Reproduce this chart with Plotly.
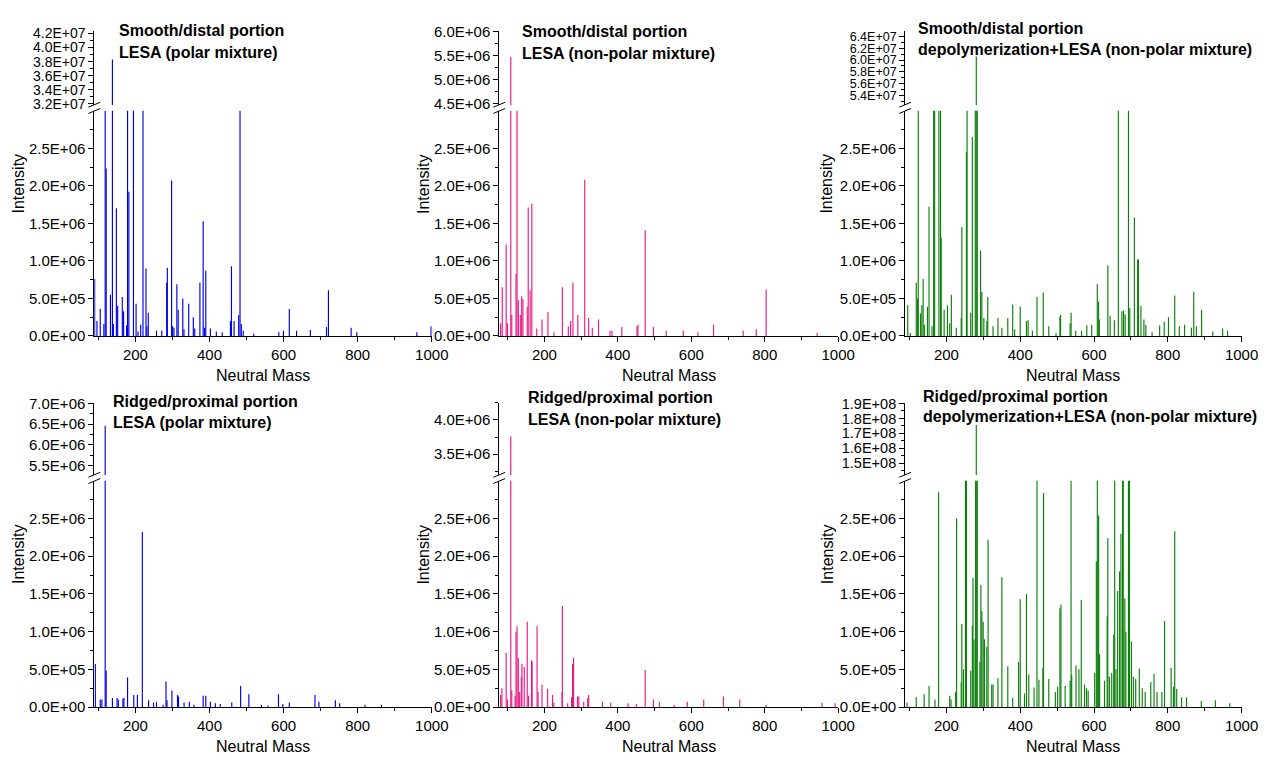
import plotly.graph_objects as go

W, H = 1280, 762
FONT = "Liberation Sans, Arial, sans-serif"

# ---------------- DATA: [neutral mass, intensity (x1e6)] ----------------
# values > 3 that are not visible above the break are off-scale peaks
p1_peaks = [[89.9, 0.76], [96.1, 0.20], [105.0, 0.36], [114.7, 0.16], [118.3, 8.0],
            [121.0, 2.23], [132.5, 0.55], [137.8, 38.3], [140.5, 0.16], [148.5, 1.70],
            [152.0, 0.40], [164.5, 0.52], [168.0, 0.33], [176.0, 0.14], [178.7, 8.0],
            [182.2, 1.92], [194.6, 8.0], [201.7, 0.43], [207.0, 0.06], [214.2, 0.15],
            [220.4, 8.0], [228.4, 0.90], [231.0, 0.13], [234.6, 0.31], [256.8, 0.07],
            [271.0, 0.07], [284.3, 0.71], [286.1, 0.91], [297.6, 2.07], [300.3, 0.13],
            [304.0, 0.11], [311.8, 0.69], [315.4, 0.35], [327.8, 0.50], [331.0, 0.09],
            [343.8, 0.43], [356.2, 0.25], [360.0, 0.10], [374.0, 0.71], [382.8, 1.53],
            [386.4, 0.11], [389.9, 0.87], [402.4, 0.10], [418.3, 0.06], [434.3, 0.05],
            [456.5, 0.20], [459.2, 0.93], [466.3, 0.20], [478.7, 0.28], [482.3, 8.0],
            [485.8, 0.16], [491.1, 0.07], [519.5, 0.03], [587.0, 0.05], [599.4, 0.07],
            [615.4, 0.36], [635.0, 0.07], [672.2, 0.08], [715.7, 0.12], [721.0, 0.61],
            [782.3, 0.11], [797.4, 0.05], [959.8, 0.05], [998.0, 0.13]]

p2_peaks = [[80.6, 0.17], [85.1, 0.65], [95.8, 1.22], [99.4, 0.17], [108.3, 5.48],
            [111.0, 0.28], [122.6, 0.83], [125.3, 4.0], [128.9, 0.48], [134.3, 0.28],
            [137.9, 0.53], [141.4, 0.49], [153.1, 0.39], [155.8, 1.71], [161.1, 0.61],
            [165.6, 1.76], [179.0, 0.10], [193.4, 0.22], [209.5, 0.32], [226.0, 0.05],
            [248.8, 0.65], [265.0, 0.13], [271.2, 0.20], [277.5, 0.71], [290.9, 0.28],
            [309.7, 2.08], [320.4, 0.24], [330.3, 0.11], [347.3, 0.22], [378.6, 0.07],
            [384.0, 0.07], [410.8, 0.12], [452.0, 0.13], [454.7, 0.15], [474.4, 1.41],
            [496.8, 0.12], [531.7, 0.07], [578.2, 0.07], [618.0, 0.05], [660.5, 0.15],
            [741.1, 0.07], [776.9, 0.09], [803.7, 0.62], [942.5, 0.04]]

p3_peaks = [[95.1, 0.41], [102.2, 0.04], [118.2, 0.71], [121.8, 0.50], [123.6, 10.0],
            [129.8, 0.30], [133.3, 0.41], [136.9, 0.76], [140.5, 0.15], [148.5, 0.39],
            [152.9, 1.72], [160.9, 0.13], [165.3, 10.0], [168.0, 10.0], [179.6, 10.0],
            [184.0, 10.0], [185.8, 1.31], [193.8, 0.35], [202.7, 0.41], [208.9, 0.17],
            [213.3, 0.55], [226.7, 0.11], [240.0, 0.24], [241.8, 1.45], [254.2, 2.45],
            [256.0, 10.0], [265.8, 0.31], [270.2, 2.65], [278.2, 10.0], [280.9, 60.6],
            [283.6, 10.0], [292.5, 1.14], [296.0, 0.59], [301.4, 0.24], [309.4, 0.20],
            [312.0, 0.52], [326.3, 0.13], [339.6, 0.24], [350.3, 0.11], [366.3, 0.24],
            [379.6, 0.42], [385.0, 0.09], [400.0, 0.39], [416.9, 0.20], [421.4, 0.21],
            [433.0, 0.07], [445.4, 0.52], [462.3, 0.58], [477.4, 0.13], [497.0, 0.04],
            [507.6, 0.26], [509.4, 0.28], [535.2, 0.17], [537.9, 0.31], [550.3, 0.07],
            [566.3, 0.07], [580.5, 0.14], [593.8, 0.15], [608.9, 0.69], [612.5, 0.46],
            [614.3, 0.22], [637.5, 0.94], [643.6, 0.27], [655.2, 0.21], [665.9, 10.0],
            [675.6, 0.33], [680.1, 0.34], [684.5, 0.29], [693.4, 10.0], [697.0, 0.37],
            [709.4, 1.58], [718.3, 1.02], [720.5, 1.02], [727.2, 0.40], [735.2, 0.22],
            [740.5, 0.15], [757.4, 0.05], [777.9, 0.14], [790.3, 0.19], [801.9, 0.25],
            [818.8, 0.54], [831.2, 0.13], [845.4, 0.15], [864.1, 0.11], [870.3, 0.59],
            [877.4, 0.13], [891.6, 0.35], [921.9, 0.06], [948.6, 0.10], [962.0, 0.07]]

p4_peaks = [[91.7, 0.57], [105.0, 0.10], [109.4, 0.10], [118.3, 6.46], [121.0, 0.48],
            [137.8, 0.12], [150.3, 0.12], [153.8, 0.10], [166.2, 0.11], [168.9, 0.12],
            [178.7, 0.39], [195.5, 0.16], [205.3, 0.16], [218.6, 2.32], [235.5, 0.09],
            [248.8, 0.06], [256.8, 0.07], [274.5, 0.03], [282.5, 0.34], [285.2, 0.09],
            [298.5, 0.22], [313.6, 0.16], [316.3, 0.14], [331.3, 0.06], [345.5, 0.07],
            [358.0, 0.03], [382.8, 0.15], [389.9, 0.15], [402.4, 0.07], [415.7, 0.05],
            [429.0, 0.04], [460.0, 0.06], [484.0, 0.28], [506.2, 0.17], [540.0, 0.03],
            [557.7, 0.02], [586.1, 0.17], [597.7, 0.04], [615.4, 0.06], [684.6, 0.16],
            [695.3, 0.07], [739.7, 0.09], [751.2, 0.05], [819.6, 0.03], [864.0, 0.03]]

p5_peaks = [[80.6, 0.16], [84.2, 0.25], [95.8, 0.72], [99.4, 0.10], [108.3, 3.76],
            [111.0, 0.22], [120.0, 0.15], [122.6, 1.00], [125.3, 1.07], [128.9, 0.65],
            [132.5, 0.20], [137.0, 0.40], [138.8, 0.57], [145.0, 0.53], [153.1, 1.13],
            [156.7, 0.15], [164.7, 0.62], [166.5, 0.60], [179.9, 1.07], [182.6, 0.20],
            [193.4, 0.30], [208.6, 0.24], [222.0, 0.16], [225.6, 0.06], [248.0, 0.20],
            [248.8, 1.34], [263.2, 0.05], [273.9, 0.13], [276.6, 0.57], [279.3, 0.65],
            [290.0, 0.14], [293.6, 0.14], [307.0, 0.07], [317.8, 0.12], [320.4, 0.16],
            [358.0, 0.07], [380.4, 0.06], [427.8, 0.05], [450.2, 0.04], [474.4, 0.49],
            [496.8, 0.10], [512.9, 0.07], [553.1, 0.03], [589.0, 0.07], [633.7, 0.10],
            [687.4, 0.14], [732.0, 0.10], [803.7, 0.03], [955.9, 0.06], [991.7, 0.05]]

p6_peaks = [[93.3, 0.06], [118.2, 0.13], [139.6, 0.17], [152.9, 0.28], [168.9, 0.10],
            [178.7, 2.85], [208.9, 0.15], [212.5, 0.10], [224.9, 0.20], [227.6, 2.50],
            [240.0, 0.33], [241.8, 1.10], [246.2, 0.50], [251.6, 20.0], [254.2, 20.0],
            [265.8, 0.48], [270.2, 1.08], [272.0, 1.71], [274.7, 0.90], [279.1, 20.0],
            [280.9, 175.6], [283.6, 20.0], [290.7, 0.60], [293.4, 1.62], [296.0, 1.27],
            [299.6, 1.13], [303.1, 0.90], [309.4, 0.80], [312.9, 2.22], [322.7, 0.30],
            [326.3, 0.30], [339.6, 0.38], [350.3, 1.72], [366.3, 0.54], [379.6, 0.12],
            [395.6, 0.60], [400.0, 1.43], [411.6, 0.18], [416.9, 1.50], [423.2, 0.43],
            [437.4, 0.26], [445.4, 20.0], [450.7, 0.36], [461.4, 0.52], [463.2, 2.84],
            [477.4, 0.37], [495.2, 0.20], [501.4, 0.27], [507.6, 1.31], [510.3, 1.36],
            [521.8, 0.28], [535.2, 0.35], [537.8, 20.0], [539.6, 0.42], [551.2, 0.55],
            [559.2, 0.50], [565.4, 1.42], [574.3, 0.30], [579.6, 0.25], [584.1, 0.22],
            [601.8, 0.45], [606.3, 1.93], [609.0, 20.0], [612.5, 2.54], [615.2, 0.70],
            [628.5, 0.35], [635.6, 1.20], [637.4, 2.24], [641.8, 0.40], [648.0, 0.45],
            [653.4, 0.96], [656.0, 20.0], [659.6, 0.50], [664.1, 1.54], [669.4, 1.80],
            [673.0, 2.30], [677.4, 20.0], [679.2, 20.0], [683.6, 1.44], [686.3, 1.00],
            [693.4, 20.0], [694.3, 2.74], [696.1, 20.0], [701.4, 0.87], [706.7, 0.40],
            [713.0, 0.37], [722.8, 0.51], [730.7, 0.25], [738.7, 0.20], [753.9, 0.33],
            [762.7, 0.44], [770.8, 0.20], [784.0, 0.20], [791.2, 1.14], [809.0, 0.52],
            [815.2, 0.27], [818.8, 2.33], [824.1, 0.24], [837.4, 0.13], [850.8, 0.13],
            [890.8, 0.08], [929.0, 0.09], [968.0, 0.05]]

x_tick_vals = [200, 400, 600, 800, 1000]
x_minor_vals = [100, 300, 500, 700, 900]
low_tick_vals = [0, 0.5e6, 1.0e6, 1.5e6, 2.0e6, 2.5e6]
low_minor_vals = [0.25e6, 0.75e6, 1.25e6, 1.75e6, 2.25e6, 2.75e6]

BLUE, PINK, GREEN = "#0000E8", "#EA1A85", "#0B810B"

# ---------------- PANEL SETUP (layout in pixels) ----------------
cols = [(95.6, 437.6), (506.0, 849.5), (917.3, 1258.3)]
xranges = [[89, 1000], [77, 1000], [88, 1000]]
rows = [dict(low=(335, 105), up=(99, 24), xt=375, yt=179.5),
        dict(low=(714, 483), up=(477, 403), xt=754, yt=558)]
ytitle_x = [19, 429, 838]

panels = [
    dict(peaks=p1_peaks, color=BLUE, row=0, col=0, urange=[31.86e6, 42.27e6], ufont=14,
         uticks=[32e6, 34e6, 36e6, 38e6, 40e6, 42e6], uminor=[33e6, 35e6, 37e6, 39e6, 41e6],
         title=("Smooth/distal portion", "LESA (polar mixture)"), tx=119, ty=(23, 45)),
    dict(peaks=p2_peaks, color=PINK, row=0, col=1, urange=[4.48e6, 6.01e6], ufont=15,
         uticks=[4.5e6, 5.0e6, 5.5e6, 6.0e6], uminor=[4.75e6, 5.25e6, 5.75e6],
         title=("Smooth/distal portion", "LESA (non-polar mixture)"), tx=527, ty=(24, 46.5)),
    dict(peaks=p3_peaks, color=GREEN, row=0, col=2, urange=[52.35e6, 64.87e6], ufont=12.5,
         uticks=[54e6, 56e6, 58e6, 60e6, 62e6, 64e6], uminor=[53e6, 55e6, 57e6, 59e6, 61e6, 63e6],
         title=("Smooth/distal portion", "depolymerization+LESA (non-polar mixture)"), tx=928, ty=(20.5, 42.5)),
    dict(peaks=p4_peaks, color=BLUE, row=1, col=0, urange=[5.27e6, 7.024e6], ufont=15,
         uticks=[5.5e6, 6.0e6, 6.5e6, 7.0e6], uminor=[5.75e6, 6.25e6, 6.75e6],
         title=("Ridged/proximal portion", "LESA (polar mixture)"), tx=113, ty=(401.5, 423)),
    dict(peaks=p5_peaks, color=PINK, row=1, col=1, urange=[3.196e6, 4.253e6], ufont=15,
         uticks=[3.5e6, 4.0e6], uminor=[3.25e6, 3.75e6, 4.25e6],
         title=("Ridged/proximal portion", "LESA (non-polar mixture)"), tx=533, ty=(398, 420)),
    dict(peaks=p6_peaks, color=GREEN, row=1, col=2, urange=[142.1e6, 190.66e6], ufont=14.5,
         uticks=[150e6, 160e6, 170e6, 180e6, 190e6], uminor=[145e6, 155e6, 165e6, 175e6, 185e6],
         title=("Ridged/proximal portion", "depolymerization+LESA (non-polar mixture)"), tx=933, ty=(396.5, 417)),
]


def fmt(v):
    return f"{v:.1E}"


def py(ypx):
    return 1 - ypx / H


fig = go.Figure()
layout = dict(width=W, height=H, margin=dict(l=0, r=0, t=0, b=0),
              paper_bgcolor="white", plot_bgcolor="white", showlegend=False,
              font=dict(family=FONT, size=15, color="black"))
annotations = []
shapes = []

base_axis = dict(showline=True, linecolor="black", linewidth=1, ticks="outside",
                 ticklen=5, tickcolor="black", tickwidth=1, showgrid=False, zeroline=False)


def tfont(size=15):
    return dict(family=FONT, size=size, color="black")


def minor(vals):
    return dict(tickmode="array", tickvals=vals, ticks="outside", ticklen=3, tickcolor="black")


for i, p in enumerate(panels):
    xi = i + 1
    ylo, yup = 2 * i + 1, 2 * i + 2
    xname = "x" if xi == 1 else f"x{xi}"
    ylo_name = "y" if ylo == 1 else f"y{ylo}"
    yup_name = f"y{yup}"
    r = rows[p["row"]]
    c0, c1 = cols[p["col"]]

    xs, ys = [], []
    for m, v in p["peaks"]:
        xs += [m, m, None]
        ys += [0, v * 1e6, None]
    for yn in (ylo_name, yup_name):
        fig.add_trace(go.Scatter(x=xs, y=ys, mode="lines", xaxis=xname, yaxis=yn,
                                 line=dict(color=p["color"], width=1.15),
                                 hoverinfo="skip", showlegend=False))

    layout["xaxis" if xi == 1 else f"xaxis{xi}"] = dict(
        domain=[c0 / W, c1 / W], range=xranges[p["col"]], anchor=ylo_name,
        tickmode="array", tickvals=x_tick_vals, ticktext=[str(v) for v in x_tick_vals],
        minor=minor(x_minor_vals), tickfont=tfont(), **base_axis)
    layout["yaxis" if ylo == 1 else f"yaxis{ylo}"] = dict(
        domain=[py(r["low"][0]), py(r["low"][1])], range=[0, 3.0e6], anchor=xname,
        tickmode="array", tickvals=low_tick_vals, ticktext=[fmt(v) for v in low_tick_vals],
        minor=minor(low_minor_vals), tickfont=tfont(), **base_axis)
    layout[f"yaxis{yup}"] = dict(
        domain=[py(r["up"][0]), py(r["up"][1])], range=p["urange"], anchor=xname,
        tickmode="array", tickvals=p["uticks"], ticktext=[fmt(v) for v in p["uticks"]],
        minor=minor(p["uminor"]), tickfont=tfont(p["ufont"]), **base_axis)

    # axis break marks
    gy = (r["low"][1] + r["up"][0]) / 2
    for dy in (-3.2, 3.2):
        shapes.append(dict(type="line", xref="paper", yref="paper",
                           x0=(c0 - 6) / W, y0=py(gy + dy + 2.5),
                           x1=(c0 + 6) / W, y1=py(gy + dy - 2.5),
                           line=dict(color="black", width=1)))

    # panel titles
    for line, ty in zip(p["title"], p["ty"]):
        annotations.append(dict(text=f"<b>{line}</b>", xref="paper", yref="paper",
                                x=p["tx"] / W, y=py(ty), xanchor="left", yanchor="middle",
                                showarrow=False, font=tfont(16)))
    # axis titles
    annotations.append(dict(text="Neutral Mass", xref="paper", yref="paper",
                            x=(c0 + c1) / 2 / W, y=py(r["xt"]), xanchor="center", yanchor="middle",
                            showarrow=False, font=tfont(16)))
    annotations.append(dict(text="Intensity", xref="paper", yref="paper", textangle=-90,
                            x=ytitle_x[p["col"]] / W, y=py(r["yt"]), xanchor="center",
                            yanchor="middle", showarrow=False, font=tfont(16)))

layout["annotations"] = annotations
layout["shapes"] = shapes
fig.update_layout(**layout)

fig.write_html("out.html", config={"displayModeBar": False},
               post_script="document.body.style.margin='0';")
